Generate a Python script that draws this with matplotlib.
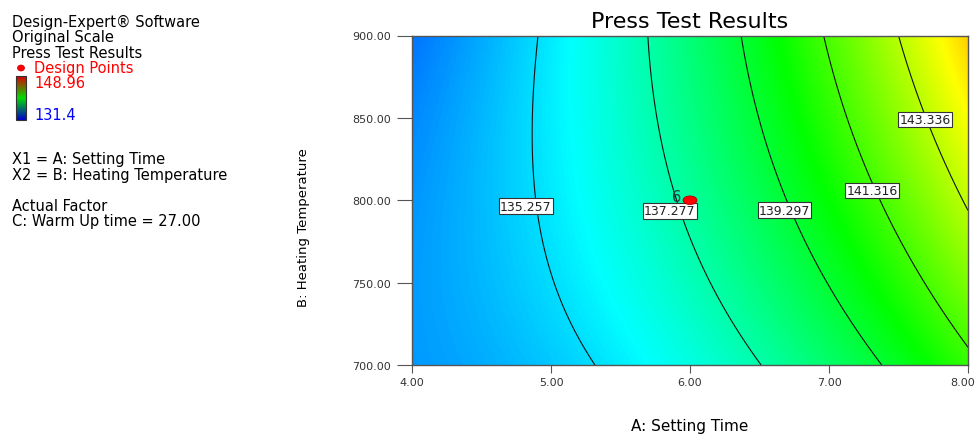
import numpy as np
import matplotlib
matplotlib.use("Agg")
import matplotlib.pyplot as plt
import matplotlib.transforms as mtransforms
from matplotlib.colors import LinearSegmentedColormap
from matplotlib.patches import Ellipse, Rectangle

# ---------------- data ----------------
# Quadratic response-surface model (coded units a=(A-6)/2, b=(B-800)/100)
# terms: intercept, a, b, ab, a^2, b^2
model_coefs = [137.502, 4.733, 0.926, 1.247, 1.237, -0.272]
x_range = [4.0, 8.0]          # A: Setting Time
y_range = [700.0, 900.0]      # B: Heating Temperature
contour_levels = [135.257, 137.277, 139.297, 141.316, 143.336]
color_min, color_max = 131.4, 148.96
x_ticks = [4.0, 5.0, 6.0, 7.0, 8.0]
y_ticks = [700.0, 750.0, 800.0, 850.0, 900.0]
design_point = (6.0, 800.0)
design_point_label = "6"
legend_lines_top = ["Design-Expert® Software", "Original Scale", "Press Test Results"]
legend_lines_bottom = ["X1 = A: Setting Time", "X2 = B: Heating Temperature", "",
                       "Actual Factor", "C: Warm Up time = 27.00"]

# ---------------- figure ----------------
W, H = 978, 435
plt.rcParams['font.family'] = ['DejaVu Sans']
fig = plt.figure(figsize=(W / 100, H / 100), dpi=100)

# overlay for the left legend block (pixel coordinates)
lax = fig.add_axes([0, 0, 1, 1])
lax.set_xlim(0, W)
lax.set_ylim(H, 0)
lax.axis('off')

ax = fig.add_axes([412 / W, 1 - 366 / H, 556 / W, 329.5 / H])

A = np.linspace(x_range[0], x_range[1], 400)
B = np.linspace(y_range[0], y_range[1], 400)
AA, BB = np.meshgrid(A, B)
a = (AA - 6.0) / 2.0
b = (BB - 800.0) / 100.0
c = model_coefs
Z = c[0] + c[1] * a + c[2] * b + c[3] * a * b + c[4] * a * a + c[5] * b * b

cmap = LinearSegmentedColormap.from_list(
    'de', ['#0000ff', '#00ffff', '#00ff00', '#ffff00', '#ff0000'])
ax.imshow(Z, extent=[x_range[0], x_range[1], y_range[0], y_range[1]],
          origin='lower', aspect='auto', cmap=cmap, vmin=color_min, vmax=color_max,
          interpolation='bilinear')
ax.contour(AA, BB, Z, levels=contour_levels, colors='#111111', linewidths=0.8)

# contour labels (horizontal boxed labels, as in Design-Expert)
label_pos = [(4.82, 796.5), (5.856, 793.5), (6.68, 794.0), (7.31, 806.0), (7.69, 849.0)]
for lv, (lx, ly) in zip(contour_levels, label_pos):
    ax.text(lx, ly, "%.3f" % lv, fontsize=9, ha='center', va='center', color='#222222',
            zorder=5,
            bbox=dict(boxstyle='square,pad=0.1', fc='white', ec='#333333', lw=0.8))

# design point
ax.add_patch(Ellipse(design_point, 0.1, 5.2, fc='#ff0000', ec='#aa0000', lw=0.6, zorder=6))
ax.text(design_point[0] - 0.065, design_point[1] + 2.0, design_point_label, fontsize=10.5,
        ha='right', va='center', color='#1f3f3f', zorder=6)

ax.set_xlim(*x_range)
ax.set_ylim(*y_range)
ax.set_xticks(x_ticks)
ax.set_yticks(y_ticks)
ax.set_xticklabels(["%.2f" % v for v in x_ticks])
ax.set_yticklabels(["%.2f" % v for v in y_ticks])
ax.tick_params(axis='y', direction='out', length=11, width=0.8, color='#555555',
               labelsize=8, labelcolor='#333333', pad=4)
ax.tick_params(axis='x', direction='out', length=6, width=0.8, color='#555555',
               labelsize=8, labelcolor='#333333', pad=2.5)
for s in ax.spines.values():
    s.set_color('#555555')
    s.set_linewidth(1.0)
# keep the last x tick label inside the canvas
last = ax.get_xticklabels()[-1]
last.set_transform(last.get_transform() +
                   mtransforms.ScaledTranslation(-5 / 100, 0, fig.dpi_scale_trans))

ax.set_xlabel("A: Setting Time", fontsize=11, va='center')
ax.xaxis.set_label_coords(0.5, -(427 - 366) / 329.5)
ax.set_ylabel("B: Heating Temperature", fontsize=9.5, va='center')
ax.yaxis.set_label_coords(-(412 - 303) / 556, (366 - 227.5) / 329.5)
ax.set_title("Press Test Results", fontsize=16, y=1 + (36.5 - 22) / 329.5, va='center', pad=0)

# ---------------- left legend block ----------------
fs = 10.5
for i, t in enumerate(legend_lines_top):
    lax.text(12, 22 + i * 15.5, t, fontsize=fs, ha='left', va='center', color='black')
lax.add_patch(Ellipse((21, 69), 7, 6, fc='#ff0000', ec='#cc0000', lw=0.5))
lax.text(34, 69, "Design Points", fontsize=fs, ha='left', va='center', color='#ff0000')
lax.text(34, 84, "%.2f" % color_max, fontsize=fs, ha='left', va='center', color='#ff0000')
lax.text(34, 115, "%.1f" % color_min, fontsize=fs, ha='left', va='center', color='#0000ff')

bar_cmap = LinearSegmentedColormap.from_list('bar', ['#0000cc', '#00dd00', '#dd0000'])
grad = np.linspace(0, 1, 100).reshape(-1, 1)
lax.imshow(grad, extent=[16, 26, 121, 77], origin='lower', aspect='auto', cmap=bar_cmap)
lax.add_patch(Rectangle((16, 77), 10, 44, fc='none', ec='#333333', lw=0.8))
lax.set_xlim(0, W)
lax.set_ylim(H, 0)

for i, t in enumerate(legend_lines_bottom):
    if t:
        lax.text(12, 160 + i * 15.5, t, fontsize=fs, ha='left', va='center', color='black')

fig.savefig("out.png", dpi=100)
